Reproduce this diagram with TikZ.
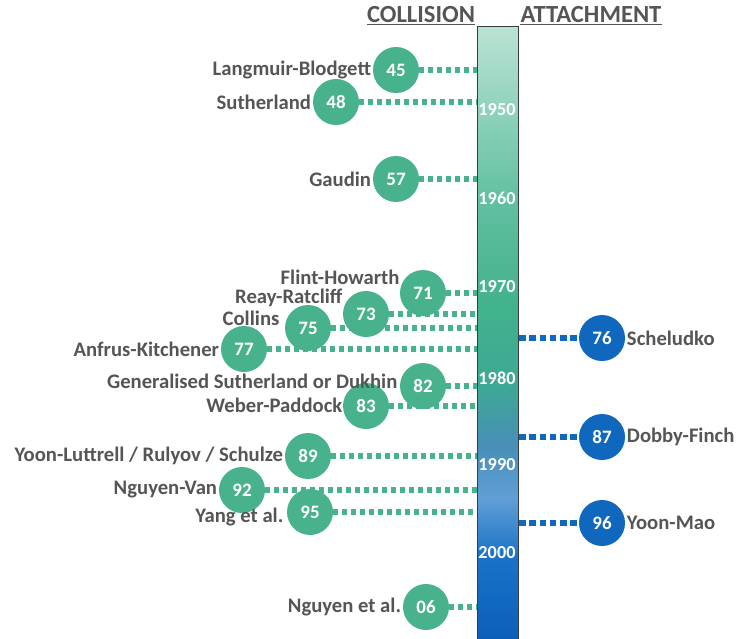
\documentclass[tikz,border=0pt]{standalone}
\usepackage{fontspec}
\setmainfont{Carlito}
\usepackage{tikz}
\usetikzlibrary{positioning,backgrounds}

\definecolor{collgreen}{RGB}{72,178,140}
\definecolor{attblue}{RGB}{16,104,190}
\definecolor{labgray}{RGB}{85,85,85}
\definecolor{barline}{RGB}{60,60,60}

% year bar: blue at the bottom, green in the middle, pale at the top
\pgfdeclareverticalshading{yearbar}{100bp}{%
  rgb(0bp)=(0.04,0.37,0.73); rgb(25bp)=(0.04,0.37,0.73);
  rgb(32bp)=(0.10,0.45,0.78); rgb(36.7bp)=(0.38,0.62,0.84);
  rgb(41bp)=(0.28,0.56,0.72); rgb(46bp)=(0.24,0.66,0.58);
  rgb(52.6bp)=(0.26,0.70,0.55); rgb(60.8bp)=(0.38,0.75,0.63);
  rgb(75bp)=(0.73,0.89,0.83); rgb(100bp)=(0.73,0.89,0.83)}

\begin{document}
\begin{tikzpicture}[x=0.025cm,y=-0.025cm,
    coll/.style={circle,fill=collgreen,minimum size=1.15cm,inner sep=0pt,
      text=white,font=\bfseries\fontsize{13.5}{15}\selectfont},
    att/.style={coll,fill=attblue},
    who/.style={text=labgray,inner sep=1pt,
      font=\bfseries\fontsize{14.7}{17}\selectfont},
    yearnum/.style={text=white,font=\bfseries\fontsize{13}{15}\selectfont},
    head/.style={text=labgray,inner sep=0pt,
      font=\bfseries\fontsize{17.5}{20}\selectfont},
    colldots/.style={draw=collgreen,line width=3.6pt,dash pattern=on 3.6pt off 2.8pt},
    attdots/.style={draw=attblue,line width=3.6pt,dash pattern=on 4.8pt off 2.4pt}
  ]
    \useasboundingbox (0,0) rectangle (740,638);

    \node[head] (hcoll) at (421,15) {COLLISION};
    \node[head] (hatt) at (591,15) {ATTACHMENT};
    \draw[labgray,line width=0.7pt] ([yshift=-1pt]hcoll.south west) -- ([yshift=-1pt]hcoll.south east);
    \draw[labgray,line width=0.7pt] ([yshift=-1pt]hatt.south west) -- ([yshift=-1pt]hatt.south east);

    \node[draw=barline,line width=0.9pt,shading=yearbar,anchor=north west,
      minimum width=1.025cm,minimum height=15.4cm,inner sep=0pt] (bar) at (477,26) {};
    \foreach \yr/\y in {1950/110,1960/198,1970/287,1980/378,1990/465,2000/553}
      \node[yearnum] (y\yr) at (497,\y) {\yr};

    \foreach \yr/\x/\y in {45/396/70,48/336/102,57/396/179,71/423/293,
                          73/366/314,75/308/328,77/244/349,82/423/386,
                          83/366/406,89/308/456,92/242/490,95/310/512,06/426/607} {
      \node[coll] (c\yr) at (\x,\y) {\yr};
    }
    \foreach \yr/\y in {76/338,87/437,96/523} {
      \node[att] (c\yr) at (602,\y) {\yr};
    }

    \begin{scope}[on background layer]
      \foreach \yr in {45,48,57,71,73,75,77,82,83,89,92,95,06}
        \draw[colldots] (c\yr.east) -- (c\yr -| bar.west);
      \foreach \yr in {76,87,96}
        \draw[attdots] (c\yr -| bar.east) -- (c\yr.west);
    \end{scope}

    \node[who,left=0pt of c45] (l45) {Langmuir-Blodgett};
    \node[who,left=0pt of c48] (l48) {Sutherland};
    \node[who,left=0pt of c57] (l57) {Gaudin};
    \node[who,anchor=east] (l71) at (401,277) {Flint-Howarth};
    \node[who,anchor=east] (l73) at (344,298) {Reay-Ratcliff};
    \node[who,anchor=east] (l75) at (281,318) {Collins};
    \node[who,left=0pt of c77] (l77) {Anfrus-Kitchener};
    \node[who,anchor=east] (l82) at (399,381) {Generalised Sutherland or Dukhin};
    \node[who,anchor=east] (l83) at (344,405) {Weber-Paddock};
    \node[who,left=0pt of c89] (l89) {Yoon-Luttrell / Rulyov / Schulze};
    \node[who,left=0pt of c92] (l92) {Nguyen-Van};
    \node[who,anchor=east] (l95) at (285,517) {Yang et al.};
    \node[who,left=0pt of c06] (l06) {Nguyen et al.};
    \node[who,right=0pt of c76] (l76) {Scheludko};
    \node[who,right=0pt of c87] (l87) {Dobby-Finch};
    \node[who,right=0pt of c96] (l96) {Yoon-Mao};
\end{tikzpicture}
\end{document}
